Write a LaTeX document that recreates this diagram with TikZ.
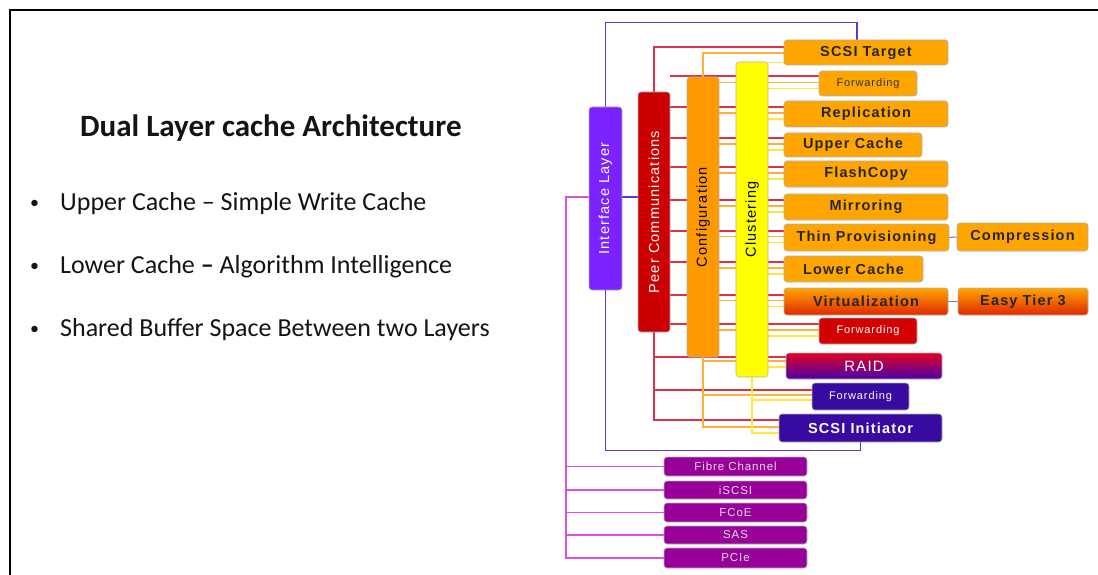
\documentclass[tikz,border=0pt]{standalone}
\usepackage{fontspec}
\setmainfont{Carlito}
\newfontfamily\df[LetterSpace=8]{Liberation Sans}
\usetikzlibrary{calc}
\pgfdeclarelayer{bg}
\pgfsetlayers{bg,main}
\definecolor{ifc}{RGB}{122,34,255}
\definecolor{ifline}{RGB}{100,50,210}
\definecolor{peerc}{RGB}{204,0,0}
\definecolor{confc}{RGB}{255,153,0}
\definecolor{clusc}{RGB}{255,255,0}
\definecolor{boxo}{RGB}{255,165,0}
\definecolor{redl}{RGB}{220,50,70}
\definecolor{oranl}{RGB}{255,175,60}
\definecolor{yell}{RGB}{255,232,60}
\definecolor{magl}{RGB}{220,80,220}
\definecolor{magb}{RGB}{153,0,153}
\definecolor{indb}{RGB}{55,10,160}
\definecolor{raidtop}{RGB}{225,0,35}
\definecolor{raidbot}{RGB}{75,0,170}
\definecolor{virtbot}{RGB}{225,40,0}
\definecolor{fwdred}{RGB}{210,0,0}
\tikzset{
  base/.style={rounded corners=3pt, draw=black!30, line width=0.6pt, inner sep=0pt},
  vbox/.style={base, minimum width=32},
  vtext/.style={rotate=90, font=\df\fontsize{14.5}{16}\selectfont},
  rbox/.style={base, fill=boxo, text=black!85, font=\df\bfseries\fontsize{14.5}{16}\selectfont},
  fwdbox/.style={base, minimum width=98, font=\df\fontsize{11}{13}\selectfont},
  pbox/.style={base, fill=magb, text=white!88!black, minimum width=143, font=\df\fontsize{11.5}{13}\selectfont},
  rl/.style={redl, line width=2pt},
  ol/.style={oranl, line width=1.8pt},
  yl/.style={yell, line width=1.8pt},
  ifl/.style={ifline, line width=1.6pt},
  ml/.style={magl, line width=1.8pt},
  gl/.style={gray, line width=1pt},
  lefttext/.style={anchor=base west, inner sep=0pt, text=black!92, font=\fontsize{26}{30}\selectfont}
}
\begin{document}
\begin{tikzpicture}[x=1pt,y=-1pt]
\begin{pgfonlayer}{bg}
\fill[white] (0,0) rectangle (1098,575);
\end{pgfonlayer}
\useasboundingbox (0,0) rectangle (1098,575);
\draw[line width=1.2pt] (10,575) -- (10,10) -- (1098,10);

% left text
\node[lefttext, font=\bfseries\fontsize{31}{34}\selectfont] (title) at (80,137) {Dual Layer cache Architecture};
\node[lefttext, font=\fontsize{18}{22}\selectfont] (b1) at (30,208) {•};
\node[lefttext] (t1) at (60,210) {Upper Cache – Simple Write Cache};
\node[lefttext, font=\fontsize{18}{22}\selectfont] (b2) at (30,271) {•};
\node[lefttext] (t2) at (60,273) {Lower Cache \textbf{–} Algorithm Intelligence};
\node[lefttext, font=\fontsize{18}{22}\selectfont] (b3) at (30,334) {•};
\node[lefttext] (t3) at (60,336) {Shared Buffer Space Between two Layers};

% vertical layers
\node[vbox, fill=ifc, minimum width=33, minimum height=183,
  label={[vtext, text=white]center:Interface Layer}] (iface) at (605.5,198.5) {};
\node[vbox, fill=peerc, minimum height=240,
  label={[vtext, text=white]center:Peer Communications}] (peer) at (654,212) {};
\node[vbox, fill=confc, minimum height=280,
  label={[vtext, text=black]center:Configuration}] (conf) at (703,217) {};
\node[vbox, fill=clusc, minimum height=315,
  label={[vtext, text=black]center:Clustering}] (clus) at (752,219.5) {};

% right boxes
\node[rbox, minimum width=164, minimum height=25] (scsiT) at (866,52.5) {SCSI Target};
\node[fwdbox, fill=boxo, text=black!80, minimum height=25] (fwd1) at (868,83.5) {Forwarding};
\node[rbox, minimum width=164, minimum height=26] (repl) at (866,114) {Replication};
\node[rbox, minimum width=138, minimum height=24] (upper) at (853,145) {Upper Cache};
\node[rbox, minimum width=164, minimum height=26] (flash) at (866,174) {FlashCopy};
\node[rbox, minimum width=164, minimum height=26] (mirror) at (866,207) {Mirroring};
\node[rbox, minimum width=165, minimum height=27] (thin) at (866.5,237.5) {Thin Provisioning};
\node[rbox, minimum width=139, minimum height=26] (lower) at (853.5,269) {Lower Cache};
\node[rbox, minimum width=164, minimum height=27, top color=boxo, middle color=boxo, bottom color=virtbot] (virt) at (866,301.5) {Virtualization};
\node[fwdbox, fill=fwdred, text=white, minimum height=26] (fwd2) at (868,331) {Forwarding};
\node[base, minimum width=156, minimum height=26, top color=raidtop, bottom color=raidbot, text=white, font=\df\fontsize{15}{17}\selectfont] (raid) at (864,366) {RAID};
\node[fwdbox, fill=indb, text=white, minimum width=97, minimum height=27] (fwd3) at (860.5,396.5) {Forwarding};
\node[rbox, fill=indb, text=white, minimum width=163, minimum height=28] (scsiI) at (860.5,428) {SCSI Initiator};
\node[rbox, minimum width=131, minimum height=28] (comp) at (1022.5,237) {Compression};
\node[rbox, minimum width=130, minimum height=27, top color=boxo, middle color=boxo, bottom color=virtbot] (easy) at (1023,301.5) {Easy Tier 3};

% bottom protocol boxes
\node[pbox, minimum height=19] (fc) at (735.5,466.5) {Fibre Channel};
\node[pbox, minimum height=18] (iscsi) at (735.5,490) {iSCSI};
\node[pbox, minimum height=19] (fcoe) at (735.5,512.5) {FCoE};
\node[pbox, minimum height=18] (sas) at (735.5,535) {SAS};
\node[pbox, minimum height=20] (pcie) at (735.5,558) {PCIe};

% connectors
\begin{pgfonlayer}{bg}
\foreach \n in {fwd1,repl,upper,flash,mirror,thin,lower,virt,fwd2}{
  \path ($(\n.west)+(0,-7)$) coordinate (tr);
  \path ($(\n.west)+(0,-1)$) coordinate (to);
  \path ($(\n.west)+(0,5)$) coordinate (ty);
  \draw[rl] (peer.east |- tr) -- (tr);
  \draw[ol] (conf.east |- to) -- (to);
  \draw[yl] (clus.east |- ty) -- (ty);
}
% top
\draw[rl] (peer.north) |- ($(scsiT.west)+(0,-5.5)$);
\draw[ol] (conf.north) |- ($(scsiT.west)+(0,0.5)$);
\path ($(scsiT.west)+(0,10)$) coordinate (tyT);
\draw[yl] (clus.east |- tyT) -- (tyT);
% bottom
\draw[rl] (peer.south) |- ($(scsiI.west)+(0,-8)$);
\path ($(raid.west)+(0,-9)$) coordinate (rr);
\draw[rl] (peer.south |- rr) -- (rr);
\path ($(fwd3.west)+(0,-6.5)$) coordinate (rf);
\draw[rl] (peer.south |- rf) -- (rf);
\draw[ol] (conf.south) |- ($(scsiI.west)+(0,-1)$);
\path ($(raid.west)+(0,-5)$) coordinate (or);
\draw[ol] (conf.south |- or) -- (or);
\path ($(fwd3.west)+(0,-1.5)$) coordinate (of);
\draw[ol] (conf.south |- of) -- (of);
\draw[yl] (clus.south) |- ($(scsiI.west)+(0,5)$);
\path ($(fwd3.west)+(0,3.5)$) coordinate (yf);
\draw[yl] (clus.south |- yf) -- (yf);
\path ($(raid.west)+(0,1)$) coordinate (yr);
\draw[yl] (clus.east |- yr) -- (yr);
% interface
\draw[ifl] (iface.north) |- ($(scsiT.north)+(-9,-17)$) -- ($(scsiT.north)+(-9,0)$);
\draw[ifl] (iface.south) |- ($(scsiI.south)+(0,8)$) -- (scsiI.south);
\draw[ifl] ($(iface.east)+(0,-1.5)$) -- ($(peer.west |- iface.east)+(0,-1.5)$);
\coordinate (mg) at ($(iface.west)+(-23,-1.5)$);
\draw[ml] ($(iface.west)+(0,-1.5)$) -- (mg) |- (pcie.west);
\foreach \n in {fc,iscsi,fcoe,sas}{\draw[ml] (mg |- \n.west) -- (\n.west);}
% side
\draw[gl] (thin.east) -- (comp.west);
\draw[gl] (virt.east) -- (easy.west);
\end{pgfonlayer}
\end{tikzpicture}
\end{document}
